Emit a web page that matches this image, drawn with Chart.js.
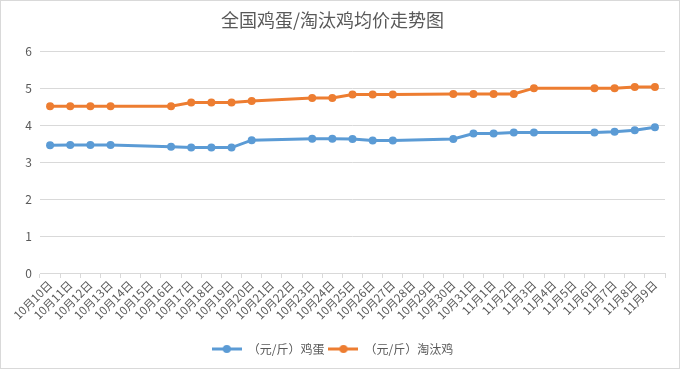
<!DOCTYPE html>
<html>
<head>
<meta charset="utf-8">
<script src="https://cdn.jsdelivr.net/npm/chart.js@4/dist/chart.umd.min.js"></script>
<style>
html,body{margin:0;padding:0;background:#fff;}
#wrap{width:680px;height:369px;position:relative;}
</style>
</head>
<body>
<div id="wrap"><canvas id="c" width="680" height="369"></canvas></div>
<script>
const titleText = '全国鸡蛋/淘汰鸡均价走势图';
const categories = ['10月10日','10月11日','10月12日','10月13日','10月14日','10月15日','10月16日','10月17日','10月18日','10月19日','10月20日','10月21日','10月22日','10月23日','10月24日','10月25日','10月26日','10月27日','10月28日','10月29日','10月30日','10月31日','11月1日','11月2日','11月3日','11月4日','11月5日','11月6日','11月7日','11月8日','11月9日'];
const eggName = '（元/斤）鸡蛋';
const eggValues = [3.46,3.47,3.47,3.47,null,null,3.42,3.40,3.40,3.40,3.60,null,null,3.64,3.64,3.63,3.59,3.59,null,null,3.63,3.78,3.78,3.81,3.81,null,null,3.81,3.83,3.87,3.95];
const henName = '（元/斤）淘汰鸡';
const henValues = [4.52,4.52,4.52,4.52,null,null,4.52,4.62,4.62,4.62,4.66,null,null,4.74,4.74,4.84,4.84,4.84,null,null,4.85,4.85,4.85,4.85,5.01,null,null,5.01,5.01,5.04,5.04];
const yTicks = [0,1,2,3,4,5,6];

const FONT = "'Noto Sans CJK SC','Noto Sans',sans-serif";
const TXT = '#595959';
const GRID = '#d9d9d9';

function legendIcon(color){
  const c = document.createElement('canvas');
  c.width = 30; c.height = 10;
  const g = c.getContext('2d');
  g.strokeStyle = color; g.lineWidth = 3;
  g.beginPath(); g.moveTo(0,5); g.lineTo(30,5); g.stroke();
  g.fillStyle = color;
  g.beginPath(); g.arc(15,5,4,0,Math.PI*2); g.fill();
  return c;
}

const framePlugin = {
  id:'frame',
  beforeDraw(chart){
    const ctx = chart.ctx;
    ctx.save(); ctx.fillStyle='#fff'; ctx.fillRect(0,0,chart.width,chart.height); ctx.restore();
  },
  afterDraw(chart){
    const ctx = chart.ctx;
    ctx.save(); ctx.strokeStyle=GRID; ctx.lineWidth=1;
    ctx.strokeRect(0.5,0.5,chart.width-1,chart.height-1); ctx.restore();
  }
};

new Chart(document.getElementById('c'), {
  type:'line',
  data:{
    labels: categories,
    datasets:[
      {label:eggName,data:eggValues,borderColor:'#5B9BD5',backgroundColor:'#5B9BD5',borderWidth:3,pointRadius:4,pointHoverRadius:4,pointBorderWidth:0,spanGaps:true,tension:0,pointStyle:'circle'},
      {label:henName,data:henValues,borderColor:'#ED7D31',backgroundColor:'#ED7D31',borderWidth:3,pointRadius:4,pointHoverRadius:4,pointBorderWidth:0,spanGaps:true,tension:0,pointStyle:'circle'}
    ]
  },
  options:{
    responsive:false,
    animation:false,
    devicePixelRatio:1,
    layout:{padding:{left:0,right:15,top:0,bottom:4}},
    plugins:{
      title:{display:true,text:titleText,color:TXT,font:{family:FONT,size:18,weight:'normal'},padding:{top:9,bottom:21}},
      legend:{position:'bottom',labels:{color:TXT,font:{family:FONT,size:12},usePointStyle:true,pointStyleWidth:30,boxHeight:10,padding:4,
        generateLabels(chart){
          return chart.data.datasets.map((d,i)=>({text:d.label,fillStyle:d.borderColor,strokeStyle:d.borderColor,lineWidth:0,pointStyle:legendIcon(d.borderColor),datasetIndex:i,fontColor:TXT}));
        }}},
      tooltip:{enabled:false}
    },
    scales:{
      x:{
        offset:true,
        grid:{display:true,drawOnChartArea:false,drawTicks:true,tickLength:5,offset:true,color:GRID},
        border:{display:true,color:GRID,width:1},
        ticks:{autoSkip:false,minRotation:45,maxRotation:45,color:TXT,font:{family:FONT,size:11.5},padding:0},
        afterFit(s){s.height=66;}
      },
      y:{
        min:0,max:6,
        afterBuildTicks(s){s.ticks = yTicks.map(v=>({value:v}));},
        grid:{color:GRID,drawTicks:false},
        border:{display:false},
        ticks:{color:TXT,font:{family:FONT,size:12},padding:8},
        afterFit(s){s.width=40;}
      }
    }
  },
  plugins:[framePlugin]
});
</script>
</body>
</html>
